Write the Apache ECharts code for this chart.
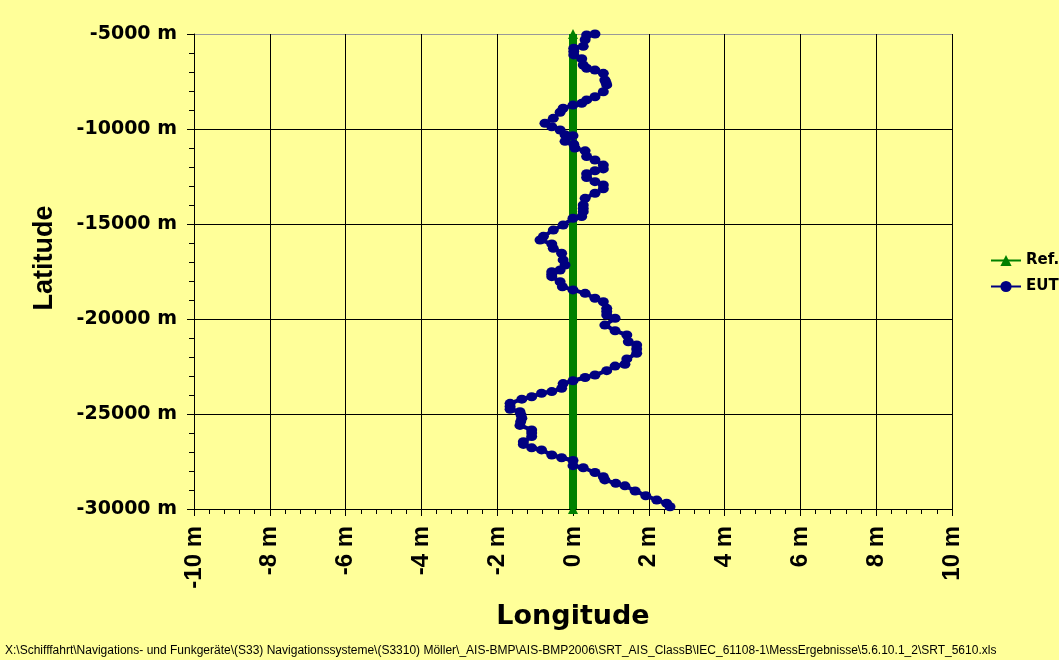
<!DOCTYPE html>
<html>
<head>
<meta charset="utf-8">
<script src="https://cdn.jsdelivr.net/npm/echarts@6/dist/echarts.min.js"></script>
<style>
html,body{margin:0;padding:0;background:#FFFF99;}
#chart{width:1059px;height:660px;}
</style>
</head>
<body>
<div id="chart"></div>
<script>
// Tick values (metres)
var xTicks = [-10, -8, -6, -4, -2, 0, 2, 4, 6, 8, 10];
var yTicks = [-30000, -25000, -20000, -15000, -10000, -5000];
var seriesNames = ['Ref.', 'EUT'];
// Reference track: [longitude m, latitude m]
var refTrack = [[0, -5000], [0, -30000]];
// EUT track: [longitude m, latitude m]
var eutTrack = [
  [0.58,-5000],[0.36,-5050],[0.32,-5300],[0.27,-5650],[0.02,-5750],[0.02,-5920],[0.02,-6100],[0.23,-6300],
  [0.27,-6630],[0.36,-6800],[0.58,-6900],[0.8,-7070],[0.84,-7420],[0.87,-7550],[0.89,-7680],[0.8,-8040],
  [0.58,-8300],[0.36,-8470],[0.23,-8650],[0.0,-8740],[-0.26,-8910],[-0.34,-9120],[-0.52,-9440],
  [-0.74,-9700],[-0.56,-9880],[-0.34,-10050],[-0.21,-10300],[0.0,-10350],[-0.21,-10650],
  [0.02,-10800],[0.05,-11000],[0.32,-11150],[0.36,-11450],[0.58,-11630],[0.8,-11900],
  [0.8,-12100],[0.58,-12200],[0.36,-12350],[0.36,-12550],[0.58,-12770],[0.8,-12950],
  [0.8,-13150],[0.58,-13380],[0.32,-13650],[0.27,-14000],[0.27,-14180],[0.27,-14350],[0.23,-14610],
  [0.0,-14700],[-0.26,-15050],[-0.52,-15320],[-0.78,-15650],[-0.87,-15840],[-0.56,-16050],
  [-0.52,-16280],[-0.3,-16540],[-0.26,-16890],[-0.21,-17160],[-0.34,-17420],[-0.56,-17510],
  [-0.56,-17640],[-0.56,-17770],[-0.34,-18040],[-0.28,-18300],[0.0,-18470],[0.32,-18650],[0.58,-18910],
  [0.8,-19090],[0.89,-19440],[0.89,-19600],[0.89,-19790],[1.11,-19960],[0.84,-20320],[1.11,-20620],
  [1.42,-20840],[1.46,-21200],[1.68,-21370],[1.68,-21580],[1.68,-21800],[1.42,-22100],[1.37,-22380],
  [1.11,-22480],[0.89,-22720],[0.58,-22950],[0.32,-23080],[0.0,-23250],[-0.26,-23400],
  [-0.3,-23650],[-0.56,-23820],[-0.83,-23910],[-1.09,-24090],[-1.35,-24220],[-1.66,-24440],
  [-1.66,-24600],[-1.66,-24750],[-1.4,-24880],[-1.37,-25050],[-1.35,-25220],[-1.38,-25400],[-1.4,-25600],
  [-1.09,-25840],[-1.09,-26000],[-1.09,-26190],
  [-1.31,-26460],[-1.31,-26600],[-1.09,-26780],[-0.83,-26890],[-0.56,-27160],[-0.3,-27300],
  [0.0,-27450],[0.0,-27720],[0.27,-27830],[0.58,-28080],[0.8,-28300],[0.84,-28470],
  [1.13,-28650],[1.37,-28780],[1.64,-29050],[1.92,-29300],[2.21,-29530],[2.47,-29700],
  [2.56,-29880]
];
var footerText = 'X:\\Schifffahrt\\Navigations- und Funkger\u00e4te\\(S33) Navigationssysteme\\(S3310) M\u00f6ller\\_AIS-BMP\\AIS-BMP2006\\SRT_AIS_ClassB\\IEC_61108-1\\MessErgebnisse\\5.6.10.1_2\\SRT_5610.xls';

var chart = echarts.init(document.getElementById('chart'), null, {renderer: 'canvas'});
var boldWide = 'DejaVu Sans';
var option = {
  backgroundColor: '#FFFF99',
  animation: false,
  grid: {left: 194, right: 107, top: 34, bottom: 151, containLabel: false},
  legend: {
    orient: 'vertical', left: 990, top: 253, padding: 0, itemWidth: 30, itemHeight: 14, itemGap: 11,
    textStyle: {fontFamily: boldWide, fontWeight: 'bold', fontSize: 15, color: '#000'},
    lineStyle: {width: 2},
    data: seriesNames
  },
  xAxis: {
    type: 'value', min: xTicks[0], max: xTicks[xTicks.length - 1], interval: 2,
    name: 'Longitude', nameLocation: 'middle', nameGap: 94,
    nameTextStyle: {fontFamily: boldWide, fontWeight: 'bold', fontSize: 27, color: '#000'},
    axisLine: {show: true, onZero: false, lineStyle: {color: '#000', width: 1}},
    axisTick: {show: true, inside: false, length: 7, lineStyle: {color: '#000'}},
    minorTick: {show: true, splitNumber: 5, length: 5, lineStyle: {color: '#000'}},
    axisLabel: {rotate: 90, margin: 17, fontFamily: 'Liberation Sans', fontWeight: 'bold', fontSize: 24, color: '#000',
      formatter: function (v) { return v + ' m'; }},
    splitLine: {show: true, lineStyle: {color: '#000', width: 1}}
  },
  yAxis: {
    type: 'value', min: yTicks[0], max: yTicks[yTicks.length - 1], interval: 5000,
    axisLine: {show: true, onZero: false, lineStyle: {color: '#000', width: 1}},
    axisTick: {show: true, inside: false, length: 7, lineStyle: {color: '#000'}},
    minorTick: {show: true, splitNumber: 5, length: 5, lineStyle: {color: '#000'}},
    axisLabel: {margin: 17, fontFamily: boldWide, fontWeight: 'bold', fontSize: 19, color: '#000',
      formatter: function (v) { return v + ' m'; }},
    splitLine: {show: true, lineStyle: {color: ['#000', '#000', '#000', '#000', '#000', '#999'], width: 1}}
  },
  series: [
    {
      name: seriesNames[0], type: 'line', data: refTrack,
      symbol: 'triangle', symbolSize: 10,
      lineStyle: {color: '#008000', width: 8},
      itemStyle: {color: '#008000'},
      z: 2
    },
    {
      name: seriesNames[1], type: 'line', data: eutTrack,
      symbol: 'circle', symbolSize: [11, 9],
      lineStyle: {color: '#000080', width: 4},
      itemStyle: {color: '#000080'},
      z: 3
    }
  ],
  graphic: [
    {
      type: 'text', x: 45, y: 258, rotation: Math.PI / 2,
      style: {text: 'Latitude', font: 'bold 27px "Liberation Sans"', fill: '#000', align: 'center', verticalAlign: 'middle'}
    },
    {
      type: 'text', left: 5, top: 645,
      style: {text: footerText, font: '12px "Liberation Sans"', fill: '#000'}
    }
  ]
};
chart.setOption(option);
</script>
</body>
</html>
